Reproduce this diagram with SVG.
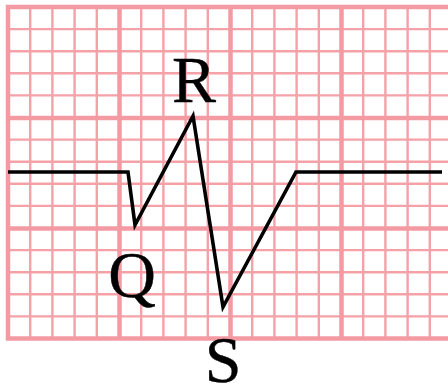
<svg xmlns="http://www.w3.org/2000/svg" width="448" height="390" viewBox="0 0 448 390">
  <style>
    .minor { fill: none; stroke: #f5a1a8; stroke-width: 2.4; }
    .major { fill: none; stroke: #f39aa2; stroke-width: 4.5; }
    .trace { fill: none; stroke: #000; stroke-width: 3.6; stroke-linejoin: miter; stroke-linecap: butt; }
    .lbl { font-family: "Liberation Serif", "Times New Roman", serif; font-size: 66px; fill: #000; stroke: #000; stroke-width: 0.4; text-anchor: middle; }
  </style>
  <rect width="448" height="390" fill="#ffffff"/>
  <g id="grid">
    <path class="minor" d="M30.2 7V338.5M52.4 7V338.5M74.6 7V338.5M96.8 7V338.5M141.2 7V338.5M163.4 7V338.5M185.6 7V338.5M207.8 7V338.5M252.2 7V338.5M274.4 7V338.5M296.6 7V338.5M318.8 7V338.5M363.2 7V338.5M385.4 7V338.5M407.6 7V338.5M429.8 7V338.5M8 29.1H448M8 51.2H448M8 73.3H448M8 95.4H448M8 139.6H448M8 161.7H448M8 183.8H448M8 205.9H448M8 250.1H448M8 272.2H448M8 294.3H448M8 316.4H448"/>
    <path class="major" d="M8 5V340.5M119.5 7V338.5M230.5 7V338.5M341.5 7V338.5M6 7H448M8 118H448M8 228.5H448M6 338.5H448"/>
  </g>
  <g id="connectors">
    <polyline class="trace" points="8,172 128,172 135,225 193,116 223,307 296,172 442,172"/>
  </g>
  <g id="label-R"><text class="lbl" x="194" y="102">R</text></g>
  <g id="label-Q"><text class="lbl" x="132" y="297">Q</text></g>
  <g id="label-S"><text class="lbl" x="223" y="382">S</text></g>
</svg>
